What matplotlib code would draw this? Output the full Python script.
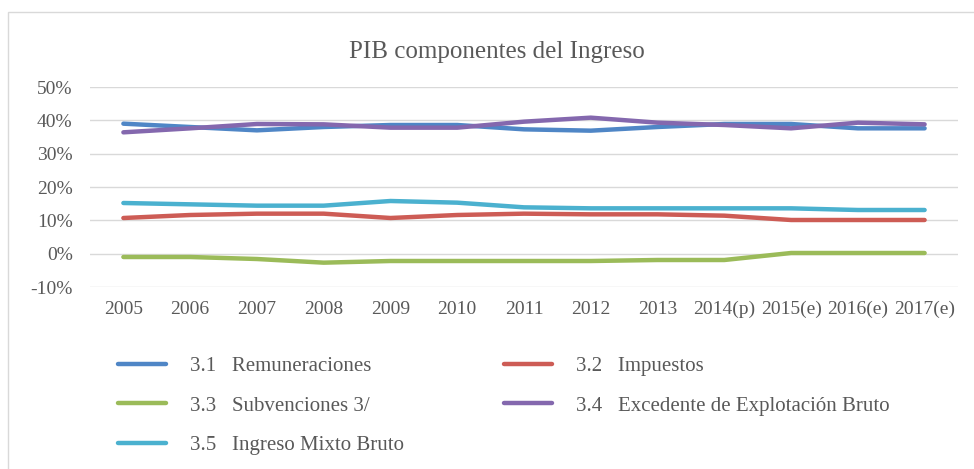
import matplotlib.pyplot as plt
import matplotlib.patches as patches
from matplotlib.ticker import FuncFormatter

years = ['2005', '2006', '2007', '2008', '2009', '2010', '2011', '2012',
         '2013', '2014(p)', '2015(e)', '2016(e)', '2017(e)']

remuneraciones = [39.0, 38.0, 37.0, 38.0, 38.6, 38.6, 37.3, 36.9, 38.0, 38.9, 38.9, 37.6, 37.6]
impuestos = [10.7, 11.6, 12.0, 12.0, 10.7, 11.6, 12.0, 11.8, 11.8, 11.4, 10.1, 10.1, 10.1]
subvenciones = [-1.0, -1.0, -1.6, -2.7, -2.2, -2.2, -2.2, -2.2, -1.9, -1.9, 0.2, 0.2, 0.2]
excedente = [36.4, 37.6, 38.9, 38.8, 37.8, 37.8, 39.6, 40.8, 39.3, 38.6, 37.6, 39.3, 38.8]
mixto = [15.2, 14.8, 14.4, 14.4, 15.8, 15.3, 13.9, 13.6, 13.6, 13.6, 13.6, 13.1, 13.1]

labels = ['3.1   Remuneraciones', '3.2   Impuestos', '3.3   Subvenciones 3/',
          '3.4   Excedente de Explotación Bruto', '3.5   Ingreso Mixto Bruto']
colors = ['#4F86C6', '#CD5C55', '#9BBB59', '#8468AE', '#4BB1CF']

plt.rcParams['font.family'] = ['Liberation Serif', 'DejaVu Serif']
txt = '#595959'

fig = plt.figure(figsize=(9.74, 4.69), dpi=100)
ax = fig.add_axes([90 / 974, 1 - 287 / 469, 868 / 974, 200 / 469])

x = range(len(years))
series = [remuneraciones, impuestos, subvenciones, excedente, mixto]
lines = []
for vals, c, lab in zip(series, colors, labels):
    ln, = ax.plot(x, vals, color=c, lw=3.2, solid_capstyle='round', label=lab)
    lines.append(ln)

ax.set_xlim(-0.5, len(years) - 0.5)
ax.set_ylim(-10, 50)
ax.set_yticks(range(-10, 51, 10))
ax.yaxis.set_major_formatter(FuncFormatter(lambda v, p: f'{int(v)}%'))
ax.set_xticks(list(x))
ax.set_xticklabels(years)
ax.grid(axis='y', color='#D9D9D9', lw=1)
ax.set_axisbelow(True)
for s in ax.spines.values():
    s.set_visible(False)
ax.tick_params(length=0, labelsize=14, colors=txt, pad=10)
ax.tick_params(axis='y', pad=12.5)

fig.text(497 / 974, 1 - 52 / 469, 'PIB componentes del Ingreso', ha='center', va='center',
         fontsize=18, color=txt)

order = [0, 2, 4, 1, 3]
fig.legend([lines[i] for i in order], [labels[i] for i in order], ncol=2,
           loc='upper left', bbox_to_anchor=(99 / 974, 1 - 338 / 469), frameon=False,
           fontsize=15, labelcolor=txt, handlelength=2.3, handletextpad=1.15,
           columnspacing=4.8, labelspacing=0.95)

fig.patches.append(patches.Rectangle((8 / 974, -0.1), 1.2, 1 - 12 / 469 + 0.1,
                                     transform=fig.transFigure, fill=False,
                                     edgecolor='#D9D9D9', lw=1))

fig.savefig('out.png', dpi=100)
